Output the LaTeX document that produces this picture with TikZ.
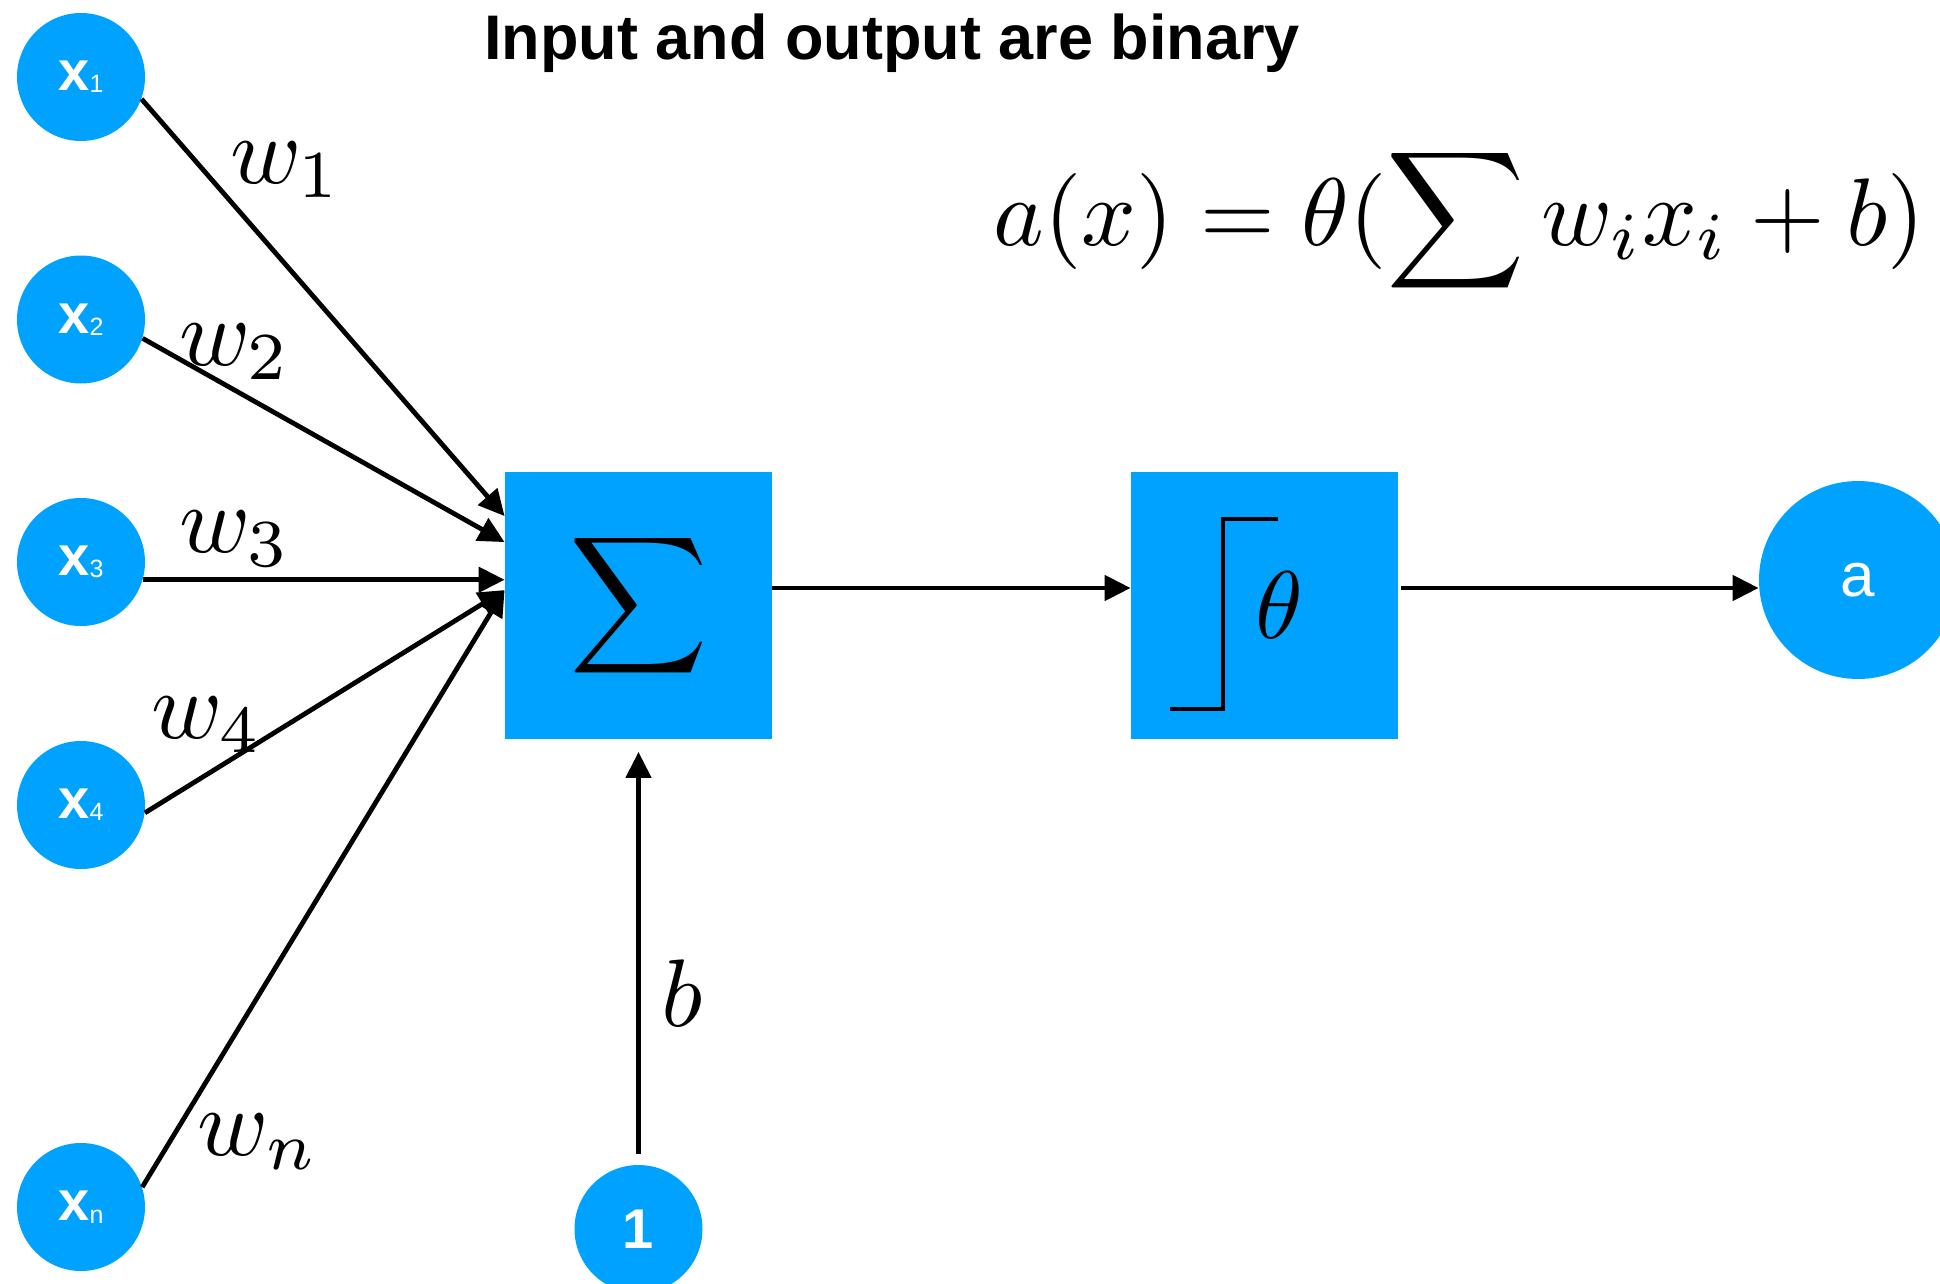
\documentclass[tikz,border=0pt]{standalone}
\usepackage{graphicx}
\usepackage{fontspec}
\setsansfont{Liberation Sans}
\usetikzlibrary{arrows.meta}
\definecolor{nodeblue}{RGB}{0,162,255}
\tikzset{
  inp/.style={circle,fill=nodeblue,draw=none,minimum size=64pt,inner sep=0pt,text=white,font=\sffamily\bfseries\fontsize{28}{30}\selectfont},
  outc/.style={circle,fill=nodeblue,draw=none,minimum size=99pt,inner sep=0pt,text=white,font=\sffamily\fontsize{31}{34}\selectfont},
  blk/.style={rectangle,fill=nodeblue,draw=none,minimum width=133.5pt,minimum height=133.5pt,inner sep=0pt},
  arr/.style={line width=2.4pt,-{Triangle[length=13pt,width=12.5pt]}},
  plain/.style={line width=2.4pt},
  mlab/.style={inner sep=0pt},
}
\newcommand{\sbs}[1]{\raisebox{-1.2pt}{\mdseries\fontsize{12.5}{13}\selectfont #1}}
\newcommand{\mth}[1]{\scalebox{4.8}{$\displaystyle #1$}}
\begin{document}
\begin{tikzpicture}[x=0.5pt,y=-0.5pt]
\useasboundingbox (0,0) rectangle (1940,1284);
% title
\node[anchor=base,inner sep=0pt,font=\sffamily\bfseries\fontsize{31.5}{34}\selectfont] (title) at (892,60) {Input and output are binary};
% formula
\node[mlab] (formula) at (1459,221) {\mth{a(x)=\theta(\sum w_ix_i+b)}};
% inputs
\node[inp] (x1) at (81,77) {x\sbs{1}};
\node[inp] (x2) at (81,319.5) {x\sbs{2}};
\node[inp] (x3) at (81,562) {x\sbs{3}};
\node[inp] (x4) at (81,805) {x\sbs{4}};
\node[inp] (xn) at (81,1207) {x\sbs{n}};
\node[inp] (one) at (638.5,1229) {1};
% blocks
\node[blk] (sig) at (638.5,605) {};
\node[mlab] (sigsym) at (638.5,606) {\mth{\sum}};
\node[blk] (th) at (1264.5,605) {};
\node[mlab] (thsym) at (1279,605) {\mth{\theta}};
\draw[plain] (1170,709) -- (1223,709) -- (1223,519) -- (1278,519);
% output
\node[outc] (a) at (1858,580) {a};
% input connectors
\draw[arr] (x1.340) -- ([yshift=-22.5pt]sig.north west);
\draw[arr] (x2.343) -- ([yshift=-35.5pt]sig.north west);
\draw[arr] (x3.344) -- (x3.344 -| sig.west);
\draw[arr] (x4.353) -- ([yshift=-59.5pt]sig.north west);
\draw[arr] (xn.18) -- ([yshift=-59.5pt]sig.north west);
% bias
\draw[arr] ([yshift=5.5pt]one.north) -- ([yshift=-6.5pt]sig.south);
% chain
\draw[arr] ([yshift=8.5pt]sig.east) -- ([yshift=8.5pt]th.west);
\draw[arr] ([yshift=8.5pt,xshift=1.5pt]th.east) -- ([yshift=8.5pt]th.east -| a.west);
% weight labels
\node[mlab] (w1) at (286,170) {\mth{w_1}};
\node[mlab] (w2) at (235,352) {\mth{w_2}};
\node[mlab] (w3) at (235,539) {\mth{w_3}};
\node[mlab] (w4) at (207,725) {\mth{w_4}};
\node[mlab] (wn) at (258,1142) {\mth{w_n}};
\node[mlab] (bl) at (682,993) {\mth{b}};
\end{tikzpicture}
\end{document}
